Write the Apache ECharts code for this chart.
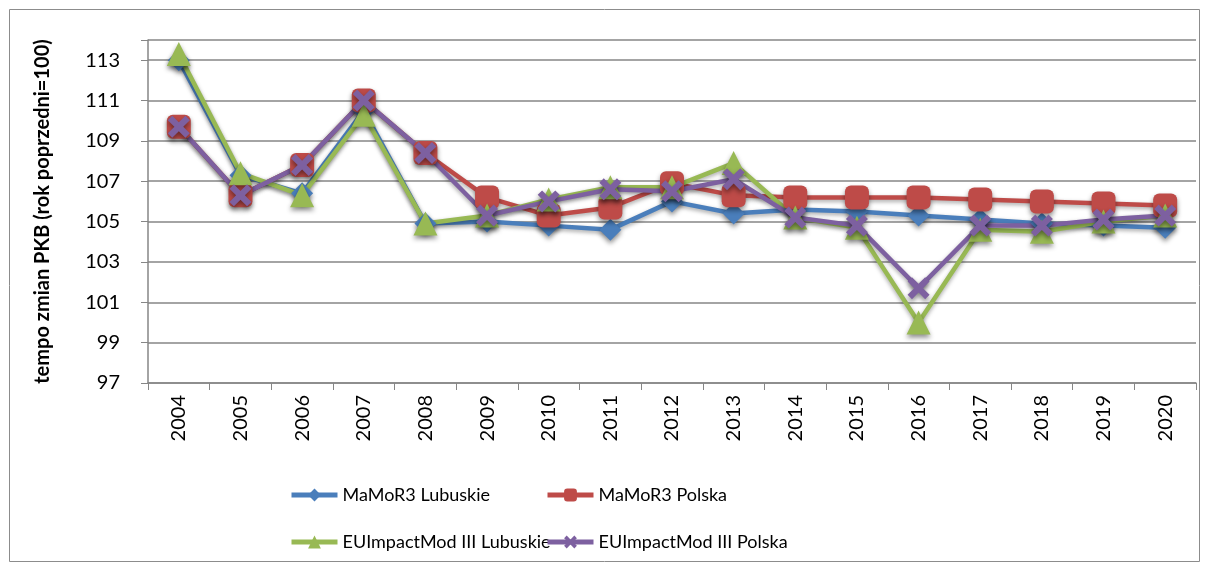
<!DOCTYPE html>
<html>
<head>
<meta charset="utf-8">
<script src="https://cdn.jsdelivr.net/npm/echarts@6/dist/echarts.min.js"></script>
<style>
  html, body { margin: 0; padding: 0; background: #fff; }
  #chart { width: 1208px; height: 567px; }
</style>
</head>
<body>
<div id="chart"></div>
<script>
const years = ['2004', '2005', '2006', '2007', '2008', '2009', '2010', '2011', '2012',
  '2013', '2014', '2015', '2016', '2017', '2018', '2019', '2020'];

const mamorLubuskie = [113.0, 107.3, 106.4, 110.5, 104.9, 105.0, 104.8, 104.6, 106.0,
  105.4, 105.6, 105.5, 105.3, 105.1, 104.9, 104.8, 104.7];
const mamorPolska = [109.7, 106.3, 107.8, 111.0, 108.4, 106.2, 105.3, 105.7, 106.9,
  106.3, 106.2, 106.2, 106.2, 106.1, 106.0, 105.9, 105.8];
const euLubuskie = [113.3, 107.4, 106.3, 110.3, 104.9, 105.3, 106.1, 106.7, 106.7,
  107.9, 105.2, 104.7, 100.0, 104.6, 104.5, 105.0, 105.3];
const euPolska = [109.7, 106.3, 107.8, 111.0, 108.4, 105.3, 106.0, 106.6, 106.5,
  107.1, 105.2, 104.8, 101.7, 104.8, 104.8, 105.1, 105.3];

const seriesNames = ['MaMoR3 Lubuskie', 'MaMoR3 Polska', 'EUImpactMod III Lubuskie', 'EUImpactMod III Polska'];
const colors = ['#4a7ebb', '#be4b48', '#98b954', '#7d60a0'];

// purple "x" marker
const crossPath = 'path://M2,0 L5,3 L8,0 L10,2 L7,5 L10,8 L8,10 L5,7 L2,10 L0,8 L3,5 L0,2 Z';

const chart = echarts.init(document.getElementById('chart'));

const font = 'Lato, "Open Sans", sans-serif';

function makeSeries(name, data, color, symbol, size) {
  return {
    name: name,
    type: 'line',
    data: data,
    symbol: symbol,
    symbolSize: size,
    lineStyle: { width: 4.5, color: color, shadowBlur: 4, shadowColor: 'rgba(0,0,0,0.35)', shadowOffsetY: 2 },
    itemStyle: { color: color, shadowBlur: 5, shadowColor: 'rgba(0,0,0,0.45)', shadowOffsetY: 3 },
    emphasis: { disabled: true },
    animation: false
  };
}

function legendAt(name, left, top) {
  return {
    data: [name],
    left: left,
    top: top,
    itemWidth: 46,
    itemHeight: 16,
    itemGap: 0,
    lineStyle: { width: 5 },
    itemStyle: { shadowBlur: 0 },
    textStyle: { fontFamily: font, fontSize: 18, color: '#000' },
    selectedMode: false
  };
}

chart.setOption({
  backgroundColor: '#fff',
  animation: false,
  graphic: [{
    type: 'rect',
    shape: { x: 9.5, y: 9.5, width: 1190, height: 552 },
    style: { fill: 'none', stroke: '#8c8c8c', lineWidth: 1 },
    silent: true
  }],
  grid: { left: 148, right: 12, top: 40, bottom: 184 },
  legend: [
    legendAt(seriesNames[0], 284, 481),
    legendAt(seriesNames[1], 540, 481),
    legendAt(seriesNames[2], 284, 528),
    legendAt(seriesNames[3], 540, 528)
  ],
  xAxis: {
    type: 'category',
    data: years,
    boundaryGap: true,
    axisLine: { lineStyle: { color: '#868686', width: 1.5 } },
    axisTick: { show: true, length: 7, lineStyle: { color: '#868686' } },
    axisLabel: { rotate: 90, fontFamily: font, fontSize: 20, color: '#000', margin: 12 }
  },
  yAxis: {
    type: 'value',
    min: 97,
    max: 114,
    interval: 2,
    name: 'tempo zmian PKB (rok poprzedni=100)',
    nameLocation: 'middle',
    nameGap: 95,
    nameTextStyle: { fontFamily: font, fontSize: 20, fontWeight: 'bold', color: '#000' },
    axisLine: { show: true, lineStyle: { color: '#868686', width: 1.5 } },
    axisTick: { show: true, length: 7, lineStyle: { color: '#868686' } },
    axisLabel: {
      fontFamily: font, fontSize: 20, color: '#000', margin: 28,
      formatter: v => (v === 114 ? '' : v)
    },
    splitLine: { lineStyle: { color: '#868686', width: 1.5 } }
  },
  series: [
    makeSeries(seriesNames[0], mamorLubuskie, colors[0], 'diamond', 22),
    makeSeries(seriesNames[1], mamorPolska, colors[1], 'roundRect', 24),
    makeSeries(seriesNames[2], euLubuskie, colors[2], 'triangle', 24),
    makeSeries(seriesNames[3], euPolska, colors[3], crossPath, 22)
  ]
});
</script>
</body>
</html>
